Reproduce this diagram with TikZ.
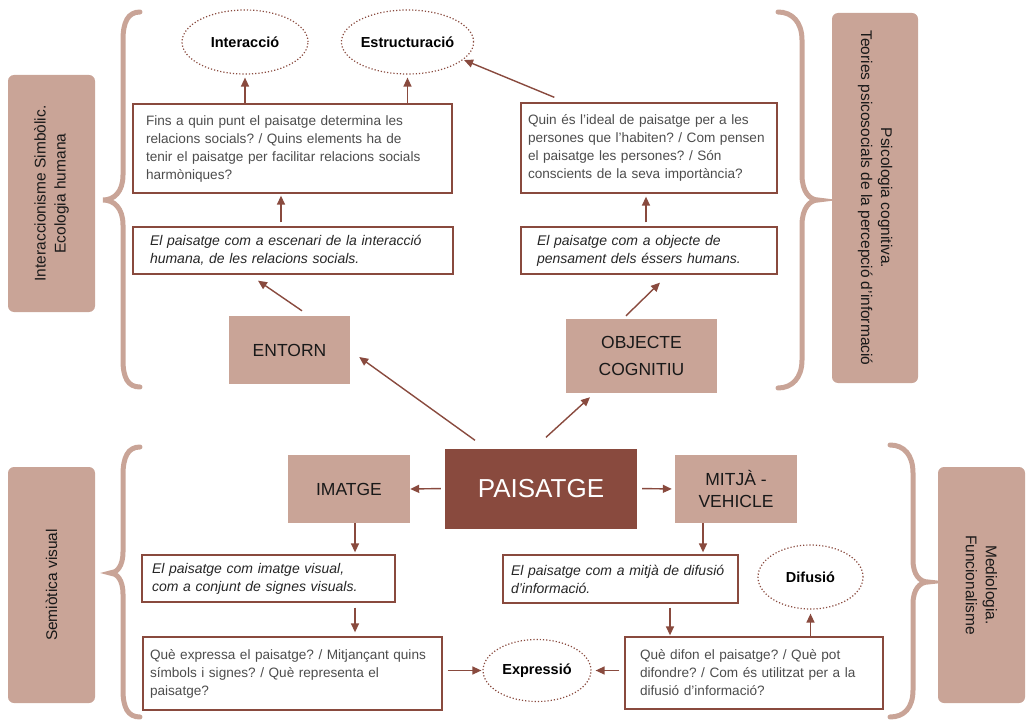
\documentclass[tikz,border=0pt]{standalone}
\usepackage{fontspec}
\setmainfont{Liberation Sans}
\usetikzlibrary{arrows.meta,shapes.geometric}
\definecolor{brn}{RGB}{137,74,62}
\definecolor{rose}{RGB}{201,164,151}
\definecolor{qgray}{RGB}{77,77,77}
\frenchspacing
\tikzset{
  arr/.style={draw=brn,line width=1.4pt,-{Triangle[length=9pt,width=8pt]}},
  brline/.style={draw=rose,line width=5pt,line cap=round},
  sidebox/.style={fill=rose,rounded corners=6pt,align=center,inner sep=0pt,text=black!90,font=\fontsize{15.5}{20}\selectfont},
  keybox/.style={fill=rose,align=center,inner sep=0pt,text=black!90,font=\fontsize{17.5}{27}\selectfont},
  core/.style={fill=brn,text=white,inner sep=0pt,font=\fontsize{26}{30}\selectfont},
  qbox/.style={draw=brn,line width=1.3pt,fill=white,align=left,inner ysep=0pt,text=qgray,font=\fontsize{13.6}{18}\selectfont},
  ibox/.style={qbox,text=black!85,font=\fontsize{14}{18}\selectfont\itshape},
  goal/.style={ellipse,draw=brn,line width=1.2pt,dotted,inner sep=0pt,text=black,font=\fontsize{14.5}{17}\selectfont\bfseries}
}
\begin{document}
\begin{tikzpicture}[x=1pt,y=-1pt]
  \useasboundingbox (0,0) rectangle (1031,722);
  % braces
  \draw[brline] (140,12) .. controls (128,12) and (123,22) .. (123,40) -- (123,175)
    .. controls (123,192) and (114,200) .. (103,200) .. controls (114,200) and (123,208) .. (123,225)
    -- (123,360) .. controls (123,378) and (128,387) .. (140,387);
  \draw[brline] (778,12) .. controls (792,12) and (802,22) .. (802,40) -- (802,175)
    .. controls (802,192) and (810,200) .. (818,200) .. controls (810,200) and (802,208) .. (802,225)
    -- (802,360) .. controls (802,378) and (792,388) .. (778,388);
  \draw[brline] (140,447) .. controls (128,447) and (123,457) .. (123,475) -- (123,552)
    .. controls (123,566) and (117,573) .. (110,573) .. controls (117,573) and (123,580) .. (123,594)
    -- (123,690) .. controls (123,708) and (128,717) .. (140,717);
  \draw[brline] (890,445) .. controls (904,445) and (913,455) .. (913,473) -- (913,560)
    .. controls (913,575) and (920,582) .. (928,582) .. controls (920,582) and (913,589) .. (913,604)
    -- (913,690) .. controls (913,708) and (904,717) .. (890,717);

  \node[sidebox,rotate=90,minimum width=237pt,minimum height=87pt] (s1) at (51.5,193.5) {Interaccionisme Simbòlic.\\Ecologia humana};
  \node[sidebox,rotate=-90,minimum width=370pt,minimum height=86pt] (s2) at (875,198) {Psicologia cognitiva.\\Teories psicosocials de la percepció d’informació};
  \node[sidebox,rotate=90,minimum width=236pt,minimum height=87pt] (s3) at (51.5,585) {Semiòtica visual};
  \node[sidebox,rotate=-90,minimum width=236pt,minimum height=87pt] (s4) at (981.5,585) {Mediologia.\\Funcionalisme};

  \node[core,minimum width=192pt,minimum height=80pt] (paisatge) at (541,488.5) {PAISATGE};
  \node[keybox,minimum width=122pt,minimum height=68pt] (imatge) at (349,489) {IMATGE};
  \node[keybox,minimum width=122pt,minimum height=68pt,font=\fontsize{17.5}{22}\selectfont] (mitja) at (736,489) {MITJÀ -\\VEHICLE};
  \node[keybox,minimum width=121pt,minimum height=68pt] (entorn) at (289.5,350) {ENTORN};
  \node[keybox,minimum width=151pt,minimum height=74pt] (objecte) at (641.5,356) {OBJECTE\\COGNITIU};

  \node[qbox,inner xsep=13pt,text width=293pt,minimum height=89pt] (q1) at (292.5,148.5)
    {Fins a quin punt el paisatge determina les\\relacions socials? / Quins elements ha de\\tenir el paisatge per facilitar relacions socials\\harmòniques?};
  \node[ibox,inner xsep=17pt,text width=286pt,minimum height=47pt] (i1) at (293,250.5)
    {El paisatge com a escenari de la interacció\\humana, de les relacions socials.};
  \node[goal,minimum width=126pt,minimum height=64pt] (e1) at (245,42) {Interacció};
  \node[goal,minimum width=129pt,minimum height=64pt] (e2) at (407.5,42) {Estructuració};

  \node[qbox,inner xsep=7pt,text width=242pt,minimum height=90pt] (q2) at (649,148)
    {Quin és l’ideal de paisatge per a les\\persones que l’habiten? / Com pensen\\el paisatge les persones? / Són\\conscients de la seva importància?};
  \node[ibox,inner xsep=16pt,text width=224pt,minimum height=47pt] (i2) at (649,250.5)
    {El paisatge com a objecte de\\pensament dels éssers humans.};

  \node[ibox,inner xsep=10pt,text width=233pt,minimum height=47pt] (i3) at (268.5,578.5)
    {El paisatge com imatge visual,\\com a conjunt de signes visuals.};
  \node[qbox,inner xsep=7pt,text width=285pt,minimum height=73pt] (q3) at (292.5,673.5)
    {Què expressa el paisatge? / Mitjançant quins\\símbols i signes? / Què representa el\\paisatge?};
  \node[goal,minimum width=108pt,minimum height=62pt] (ex) at (537,670.5) {Expressió};

  \node[ibox,inner xsep=8pt,text width=219pt,minimum height=48pt] (i4) at (620.5,579)
    {El paisatge com a mitjà de difusió\\d’informació.};
  \node[qbox,inner xsep=15pt,text width=228pt,minimum height=72pt] (q4) at (754,673)
    {Què difon el paisatge? / Què pot\\difondre? / Com és utilitzat per a la\\difusió d’informació?};
  \node[goal,minimum width=105pt,minimum height=64pt] (dif) at (810.5,577) {Difusió};

  \begin{scope}[arr]
    \draw ([xshift=-66pt,yshift=8pt]paisatge.north) -- ([xshift=9pt,yshift=-7pt]entorn.east);
    \draw ([xshift=5pt,yshift=11pt]paisatge.north) -- ([xshift=-51.5pt,yshift=-4pt]objecte.south);
    \draw[shorten <=4pt] (paisatge.west) -- (imatge.east);
    \draw[shorten <=5pt,shorten >=3pt] (paisatge.east) -- (mitja.west);
    \draw ([xshift=12.5pt,yshift=5pt]entorn.north) -- ([xshift=-35pt,yshift=-6pt]i1.south);
    \draw[shorten <=4pt,shorten >=2pt] ([xshift=-12pt]i1.north) -- ([xshift=-12pt]i1.north |- q1.south);
    \draw[shorten >=3pt] (e1.south |- q1.north) -- (e1.south);
    \draw[shorten >=3pt] (e2.south |- q1.north) -- (e2.south);
    \draw ([xshift=34pt,yshift=5pt]q2.north west) -- ([xshift=1pt]e2.-18);
    \draw ([xshift=-15.5pt,yshift=3pt]objecte.north) -- ([xshift=11pt,yshift=-8pt]i2.south);
    \draw[shorten <=4pt,shorten >=3pt] ([xshift=-3pt]i2.north) -- ([xshift=-3pt]i2.north |- q2.south);
    \draw[shorten >=2pt] ([xshift=6pt]imatge.south) -- ([xshift=6pt]imatge.south |- i3.north);
    \draw[shorten <=5pt,shorten >=4pt] ([xshift=6pt]imatge.south |- i3.south) -- ([xshift=6pt]imatge.south |- q3.north);
    \draw[shorten <=5pt,shorten >=1pt] (ex.west -| q3.east) -- (ex.west);
    \draw[shorten >=2pt] ([xshift=-33pt]mitja.south) -- ([xshift=-33pt]mitja.south |- i4.north);
    \draw[shorten <=4pt,shorten >=1pt] ([xshift=49.5pt]i4.south) -- ([xshift=49.5pt]i4.south |- q4.north);
    \draw[shorten <=5pt,shorten >=4pt] (ex.east -| q4.west) -- (ex.east);
    \draw[shorten >=4pt] (dif.south |- q4.north) -- (dif.south);
  \end{scope}
\end{tikzpicture}
\end{document}
